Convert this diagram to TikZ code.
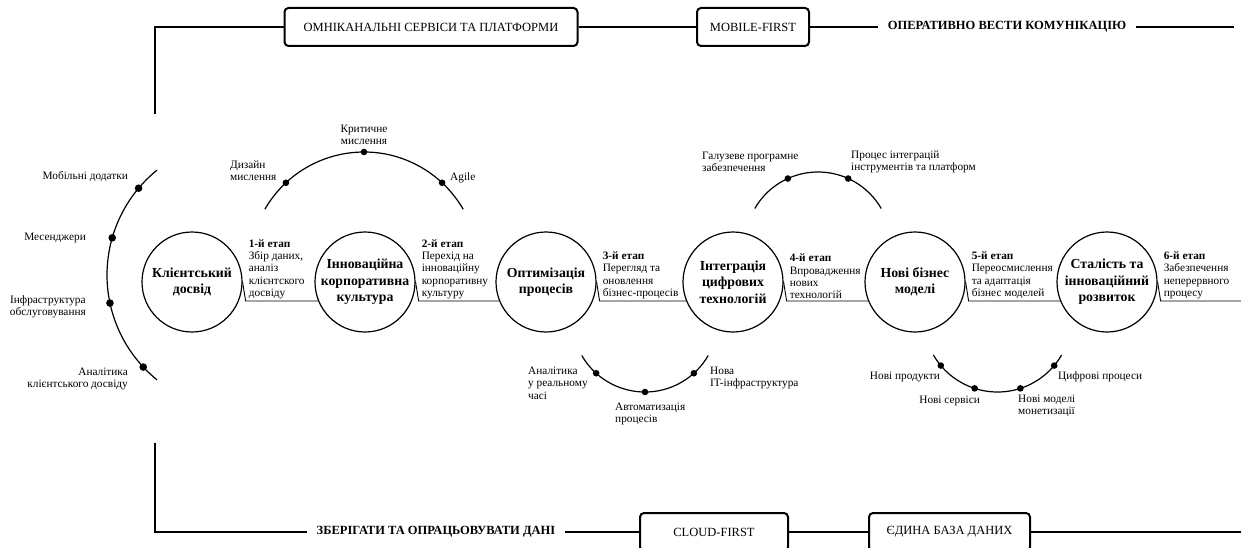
\documentclass[tikz,border=0pt]{standalone}
\usepackage{fontspec}
\setmainfont{Liberation Serif}
\usetikzlibrary{calc}
\tikzset{
  stage/.style={circle, draw, line width=1.2pt, minimum size=100pt, inner sep=0pt,
    align=center, font=\fontsize{13.8}{16.5}\selectfont\bfseries},
  barbox/.style={draw, line width=2pt, rounded corners=4pt, minimum height=38pt,
    font=\fontsize{12.5}{14}\selectfont},
  bartext/.style={inner xsep=10pt, font=\fontsize{12.5}{14}\selectfont\bfseries},
  bar/.style={line width=2pt},
  note/.style={align=left, inner sep=0pt, font=\fontsize{11.3}{12.3}\selectfont},
  link/.style={line width=0.9pt},
  branch/.style={line width=1.2pt},
}
\newcommand{\etap}[2]{\textbf{#1}\\#2}

\begin{document}
\begin{tikzpicture}[x=1pt,y=-1pt]
\useasboundingbox (0,0) rectangle (1241,548);

% top bar
\coordinate (tl) at (155,114);
\coordinate (tc) at (155,27);
\node[barbox, minimum width=293pt] (omni) at (431,27) {ОМНІКАНАЛЬНІ СЕРВІСИ ТА ПЛАТФОРМИ};
\node[barbox, minimum width=112pt] (mobile) at (753,27) {MOBILE-FIRST};
\node[bartext] (oper) at (1007,27) {ОПЕРАТИВНО ВЕСТИ КОМУНІКАЦІЮ};
\coordinate (tr) at (1234,27);
\draw[bar] (tl) -- (tc) -- (omni) -- (mobile) -- (oper) -- (tr);

% bottom bar
\coordinate (bl) at (155,443);
\coordinate (bc) at (155,532);
\node[bartext] (store) at (436,532) {ЗБЕРІГАТИ ТА ОПРАЦЬОВУВАТИ ДАНІ};
\node[barbox, minimum width=148pt] (cloud) at (714,532) {CLOUD-FIRST};
\node[barbox, minimum width=161pt] (baza) at (949.5,532) {ЄДИНА БАЗА ДАНИХ};
\coordinate (br) at (1241,532);
\draw[bar] (bl) -- (bc) -- (store) -- (cloud) -- (baza) -- (br);

% stages
\node[stage] (klient) at (192,282) {Клієнтський\\досвід};
\node[stage] (kult) at (365,282) {Інноваційна\\корпоративна\\культура};
\node[stage] (optim) at (546,282) {Оптимізація\\процесів};
\node[stage] (integr) at (733,282) {Інтеграція\\цифрових\\технологій};
\node[stage] (model) at (915,282) {Нові бізнес\\моделі};
\node[stage] (rozv) at (1107,282) {Сталість та\\інноваційний\\розвиток};
\coordinate (rend) at (1241,301);

\draw[link] (klient.east) -- ([xshift=3pt]klient.east |- kult.202) coordinate (e1) -- (kult.202);
\draw[link] (kult.east) -- ([xshift=3pt]kult.east |- optim.202) coordinate (e2) -- (optim.202);
\draw[link] (optim.east) -- ([xshift=3pt]optim.east |- integr.202) coordinate (e3) -- (integr.202);
\draw[link] (integr.east) -- ([xshift=3pt]integr.east |- model.202) coordinate (e4) -- (model.202);
\draw[link] (model.east) -- ([xshift=3pt]model.east |- rozv.202) coordinate (e5) -- (rozv.202);
\draw[link] (rozv.east) -- ([xshift=3pt]rozv.east |- rozv.202) coordinate (e6) -- (rend |- e6);

\node[note, anchor=south west] (s1) at ([shift={(3pt,2pt)}]e1) {\etap{1-й етап}{Збір даних,\\аналіз\\клієнтского\\досвіду}};
\node[note, anchor=south west] (s2) at ([shift={(3pt,2pt)}]e2) {\etap{2-й етап}{Перехід на\\інноваційну\\корпоративну\\культуру}};
\node[note, anchor=south west] (s3) at ([shift={(3pt,2pt)}]e3) {\etap{3-й етап}{Перегляд та\\оновлення\\бізнес-процесів}};
\node[note, anchor=south west] (s4) at ([shift={(3pt,2pt)}]e4) {\etap{4-й етап}{Впровадження\\нових\\технологій}};
\node[note, anchor=south west] (s5) at ([shift={(3pt,2pt)}]e5) {\etap{5-й етап}{Переосмислення\\та адаптація\\бізнес моделей}};
\node[note, anchor=south west] (s6) at ([shift={(3pt,2pt)}]e6) {\etap{6-й етап}{Забезпечення\\неперервного\\процесу}};

% channels (left)
\coordinate (lc) at (242,275);
\draw[branch] (lc) ++(129:135) arc[start angle=129, end angle=231, radius=135];
\foreach \a in {220,196,168,137}
  \fill ($(lc)+(\a:135)$) circle[radius=3.8];
\node[note, anchor=east] (mob) at (128,177) {Мобільні додатки};
\node[note, anchor=east] (mes) at (86,238) {Месенджери};
\node[note, anchor=east, align=center] (infra) at (86,307) {Інфраструктура\\обслуговування};
\node[note, anchor=east, align=right] (anal) at (128,379) {Аналітика\\клієнтського досвіду};

% thinking (top)
\coordinate (kc) at (364,266.5);
\draw[branch] (kc) ++(210:114.5) arc[start angle=210, end angle=330, radius=114.5];
\foreach \a in {227,270,313}
  \fill ($(kc)+(\a:114.5)$) circle[radius=3.3];
\node[note, anchor=south, align=center] (krit) at (364,145) {Критичне\\мислення};
\node[note, anchor=west] (dyz) at (230,171) {Дизайн\\мислення};
\node[note, anchor=west] (agile) at (450,178) {Agile};

% software (top)
\coordinate (pc) at (818,245);
\draw[branch] (pc) ++(210:73) arc[start angle=210, end angle=330, radius=73];
\foreach \a in {245.6,294.4}
  \fill ($(pc)+(\a:73)$) circle[radius=3.3];
\node[note, anchor=west] (galuz) at (702,162) {Галузеве програмне\\забезпечення};
\node[note, anchor=west] (proc) at (851,162) {Процес інтеграцій\\інструментів та платформ};

% automation (bottom)
\coordinate (ac) at (645,319);
\draw[branch] (ac) ++(150:73) arc[start angle=150, end angle=30, radius=73];
\foreach \a in {132,90,48}
  \fill ($(ac)+(\a:73)$) circle[radius=3.3];
\node[note, anchor=north west] (real) at (528,367) {Аналітика\\у реальному\\часі};
\node[note, anchor=north west] (auto) at (615,403) {Автоматизація\\процесів};
\node[note, anchor=north west] (nova) at (710,367) {Нова\\IT-інфраструктура};

% products (bottom)
\coordinate (mc) at (997.5,318);
\draw[branch] (mc) ++(150:74) arc[start angle=150, end angle=30, radius=74];
\foreach \a in {140,108,72,40}
  \fill ($(mc)+(\a:74)$) circle[radius=3.3];
\node[note, anchor=east] (prod) at (940,377) {Нові продукти};
\node[note, anchor=east] (serv) at (980,401) {Нові сервіси};
\node[note, anchor=north west] (monet) at (1018,395) {Нові моделі\\монетизації};
\node[note, anchor=west] (cyfr) at (1058,377) {Цифрові процеси};
\end{tikzpicture}
\end{document}
